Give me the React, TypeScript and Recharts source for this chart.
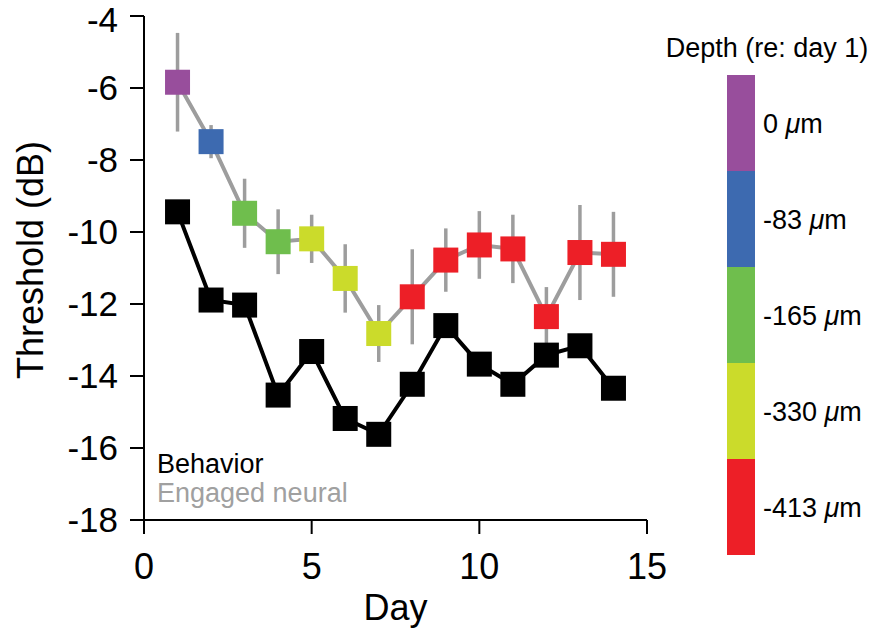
import React from 'react';
import { ComposedChart, Line, XAxis, YAxis, ErrorBar } from 'recharts';

const days = [1, 2, 3, 4, 5, 6, 7, 8, 9, 10, 11, 12, 13, 14];
const behavior = [-9.44, -11.89, -12.03, -14.53, -13.32, -15.18, -15.62, -14.23, -12.6, -13.67, -14.23, -13.42, -13.16, -14.34];
const neural = [-5.84, -7.49, -9.48, -10.27, -10.19, -11.29, -12.82, -11.8, -10.78, -10.36, -10.47, -12.35, -10.57, -10.62];
const neuralErr = [1.37, 0.46, 0.96, 0.9, 0.67, 0.95, 0.79, 1.32, 0.88, 0.94, 0.95, 0.82, 1.32, 1.18];
const dayDepthIndex = [0, 1, 2, 2, 3, 3, 3, 4, 4, 4, 4, 4, 4, 4];
const depthLabels = ['0', '-83', '-165', '-330', '-413'];
const depthColors = ['#984e9c', '#3d6ab0', '#6fbe4d', '#cbdb2b', '#ed1f27'];
const xTicks = [0, 5, 10, 15];
const yTicks = [-18, -16, -14, -12, -10, -8, -6, -4];

const data = days.map((d, i) => ({
  day: d,
  behavior: behavior[i],
  neural: neural[i],
  neuralErr: neuralErr[i],
  color: depthColors[dayDepthIndex[i]],
}));

const FONT = '"Liberation Sans", Arial, Helvetica, sans-serif';
const SQ = 25;

const BlackSquare = (props: any) => {
  const { cx, cy, index } = props;
  if (cx == null || cy == null) return <g key={`b${index}`} />;
  return <rect key={`b${index}`} x={cx - SQ / 2} y={cy - SQ / 2} width={SQ} height={SQ} fill="#000" />;
};

const ColorSquare = (props: any) => {
  const { cx, cy, index, payload } = props;
  if (cx == null || cy == null) return <g key={`n${index}`} />;
  return <rect key={`n${index}`} x={cx - SQ / 2} y={cy - SQ / 2} width={SQ} height={SQ} fill={payload.color} />;
};

const barX = 727;
const barW = 28;
const barTop = 75;
const segH = 96;

export default function App() {
  return (
    <div style={{ position: 'absolute', left: 0, top: 0, width: 875, height: 632, background: '#fff' }}>
      <ComposedChart
        width={875}
        height={632}
        data={data}
        margin={{ top: 16, right: 228, bottom: 0, left: 0 }}
      >
        <XAxis
          type="number"
          dataKey="day"
          domain={[0, 15]}
          ticks={xTicks}
          height={112}
          tickSize={14}
          tickMargin={19}
          axisLine={{ stroke: '#000', strokeWidth: 2 }}
          tickLine={{ stroke: '#000', strokeWidth: 2 }}
          tick={{ fill: '#000', fontSize: 36, fontFamily: FONT }}
          label={{
            content: (p: any) => {
              const vb = p.viewBox || { x: 144, y: 520, width: 503 };
              return (
                <text x={vb.x + vb.width / 2} y={620} textAnchor="middle" fontSize={36} fontFamily={FONT} fill="#000">
                  Day
                </text>
              );
            },
          }}
        />
        <YAxis
          type="number"
          domain={[-18, -4]}
          ticks={yTicks}
          width={144}
          tickSize={14}
          tickMargin={12}
          allowDataOverflow
          axisLine={{ stroke: '#000', strokeWidth: 2 }}
          tickLine={{ stroke: '#000', strokeWidth: 2 }}
          tick={{ fill: '#000', fontSize: 35, fontFamily: FONT }}
          label={{
            content: () => (
              <text
                x={43}
                y={260}
                transform="rotate(-90 43 260)"
                textAnchor="middle"
                fontSize={36}
                fontFamily={FONT}
                fill="#000"
              >
                Threshold (dB)
              </text>
            ),
          }}
        />
        <Line
          dataKey="behavior"
          stroke="#000"
          strokeWidth={4}
          dot={BlackSquare}
          activeDot={false}
          isAnimationActive={false}
        />
        <Line
          dataKey="neural"
          stroke="#9d9d9d"
          strokeWidth={4}
          dot={ColorSquare}
          activeDot={false}
          isAnimationActive={false}
        >
          <ErrorBar dataKey="neuralErr" width={0} stroke="#9d9d9d" strokeWidth={3.5} direction="y" isAnimationActive={false} />
        </Line>
      </ComposedChart>
      <svg
        width={875}
        height={632}
        style={{ position: 'absolute', left: 0, top: 0, pointerEvents: 'none' }}
      >
        <text x={157} y={473} fontSize={27} fontFamily={FONT} fill="#000">Behavior</text>
        <text x={157} y={502} fontSize={27} fontFamily={FONT} fill="#a0a0a0">Engaged neural</text>
        <text x={767} y={57} textAnchor="middle" fontSize={27} fontFamily={FONT} fill="#000">Depth (re: day 1)</text>
        {depthLabels.map((lab, i) => (
          <g key={lab}>
            <rect x={barX} y={barTop + i * segH} width={barW} height={segH} fill={depthColors[i]} />
            <text
              x={763}
              y={barTop + i * segH + segH / 2}
              dy="0.36em"
              fontSize={27}
              fontFamily={FONT}
              fill="#000"
            >
              {lab} <tspan fontStyle="italic">μ</tspan>m
            </text>
          </g>
        ))}
      </svg>
    </div>
  );
}
